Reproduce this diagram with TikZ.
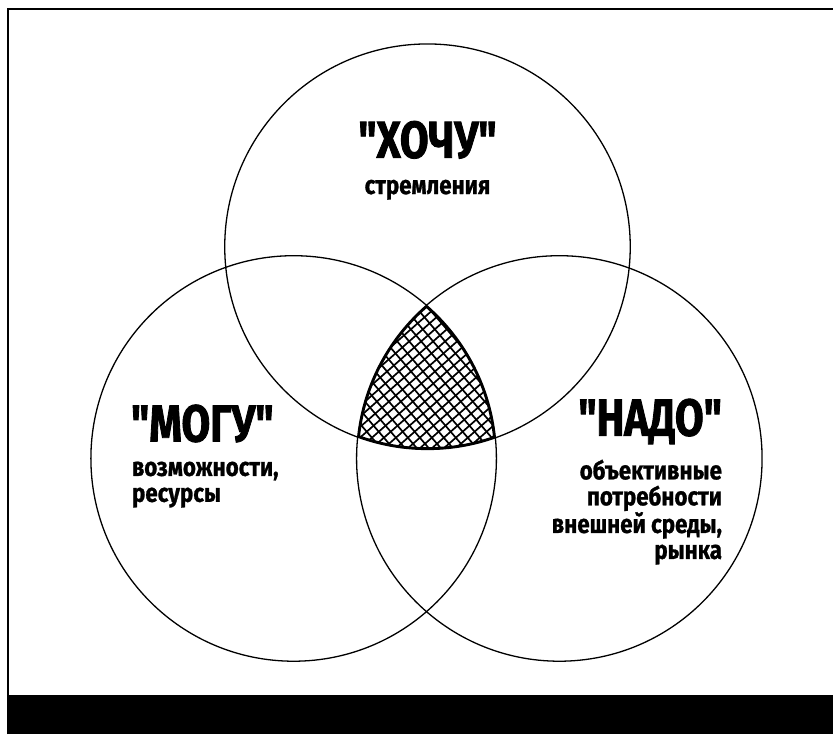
\documentclass[tikz,border=0pt]{standalone}
\usepackage{fontspec}
\setmainfont{Fira Sans}
\newfontfamily\headfont[FakeStretch=0.8,FakeBold=1.6]{Fira Sans}
\newfontfamily\bodyfont[FakeStretch=0.86,FakeBold=1]{Fira Sans}
\usetikzlibrary{calc}
\tikzset{
  ring/.style={draw, line width=1.3pt},
  hatch/.style={line width=1.7pt},
  head/.style={font=\headfont\bfseries\fontsize{52}{52}\selectfont, inner sep=0pt},
  body/.style={font=\bodyfont\bfseries\fontsize{26}{26}\selectfont, inner sep=0pt},
}
\begin{document}
\begin{tikzpicture}[x=1pt, y=-1pt]
\fill[white] (0,0) rectangle (834,735);
% frame and black bar
\draw[line width=2pt] (8.5,735) -- (8.5,9) -- (834,9);
\fill (8.5,696) rectangle (834,735);
% centres
\coordinate (want) at (428,247);
\coordinate (can) at (294,459);
\coordinate (need) at (560,459);
\def\rad{203}
% common part
\begin{scope}
\clip (want) circle (\rad);
\clip (can) circle (\rad);
\clip (need) circle (\rad);
\foreach \k in {-20,...,20}{
  \draw[hatch] ($(427,390)+(\k*12,0)+(-170,150)$) -- ++(340,-300);
  \draw[hatch] ($(427,390)+(\k*12,0)+(-150,-175)$) -- ++(300,350);
}
\draw[line width=4.5pt] (want) circle (\rad) (can) circle (\rad) (need) circle (\rad);
\end{scope}
\draw[ring] (want) circle (\rad);
\draw[ring] (can) circle (\rad);
\draw[ring] (need) circle (\rad);
% labels
\node[head] (wanthead) at (428,140) {"ХОЧУ"};
\node[body] (wanttext) at (428,190) {стремления};
\node[head, anchor=west] (canhead) at (131,424) {"МОГУ"};
\node[body, anchor=north west, align=left] (cantext) at (132,462) {возможности,\\ресурсы};
\node[head, anchor=east] (needhead) at (723,422) {"НАДО"};
\node[body, anchor=north east, align=right] (needtext) at (723,460) {объективные\\потребности\\внешней среды,\\рынка};
\end{tikzpicture}
\end{document}
